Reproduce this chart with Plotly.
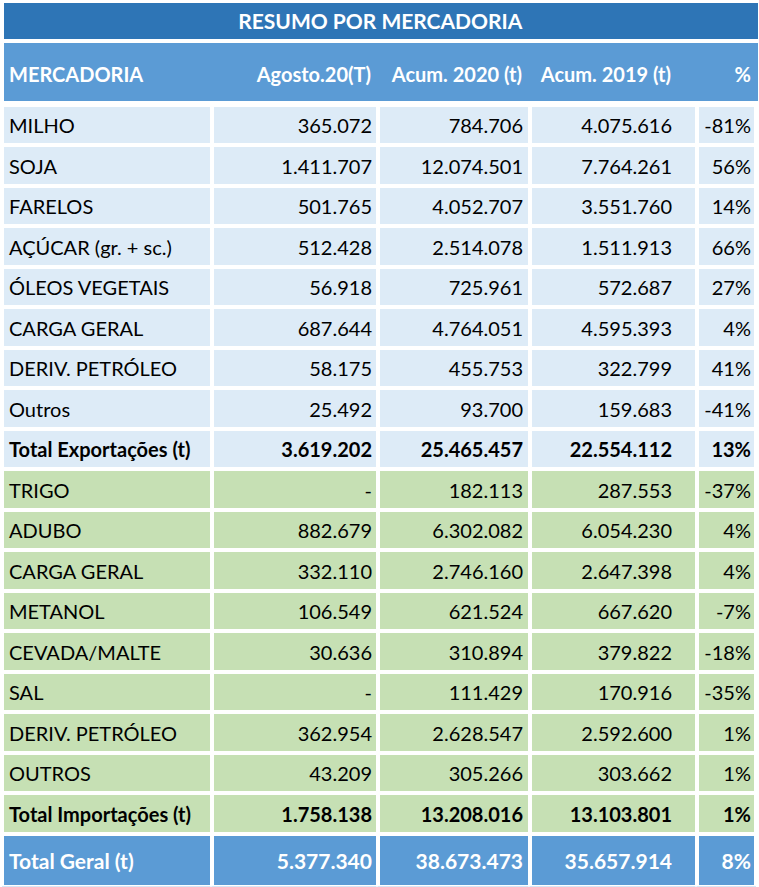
import plotly.graph_objects as go

# ---------------- data ----------------
title_text = "RESUMO POR MERCADORIA"
columns = ["MERCADORIA", "Agosto.20(T)", "Acum. 2020 (t)", "Acum. 2019 (t)", "%"]

exp_names = ["MILHO", "SOJA", "FARELOS", "AÇÚCAR (gr. + sc.)", "ÓLEOS VEGETAIS",
             "CARGA GERAL", "DERIV. PETRÓLEO", "Outros", "Total Exportações (t)"]
exp_ago20 = [365072, 1411707, 501765, 512428, 56918, 687644, 58175, 25492, 3619202]
exp_acum20 = [784706, 12074501, 4052707, 2514078, 725961, 4764051, 455753, 93700, 25465457]
exp_acum19 = [4075616, 7764261, 3551760, 1511913, 572687, 4595393, 322799, 159683, 22554112]
exp_pct = [-81, 56, 14, 66, 27, 4, 41, -41, 13]

imp_names = ["TRIGO", "ADUBO", "CARGA GERAL", "METANOL", "CEVADA/MALTE", "SAL",
             "DERIV. PETRÓLEO", "OUTROS", "Total Importações (t)"]
imp_ago20 = [None, 882679, 332110, 106549, 30636, None, 362954, 43209, 1758138]
imp_acum20 = [182113, 6302082, 2746160, 621524, 310894, 111429, 2628547, 305266, 13208016]
imp_acum19 = [287553, 6054230, 2647398, 667620, 379822, 170916, 2592600, 303662, 13103801]
imp_pct = [-37, 4, 4, -7, -18, -35, 1, 1, 1]

total_name = "Total Geral (t)"
total_values = [5377340, 38673473, 35657914]
total_pct = 8

# ---------------- styling ----------------
W, H = 759, 887
FONT = "Lato"
C_TITLE = "#2E75B6"
C_HEAD = "#5B9BD5"
C_EXP = "#DDEBF7"
C_IMP = "#C6E0B4"
CLEAR = "rgba(0,0,0,0)"
NBSP = "\u00a0"

FILL_X = (2, 756)
FILL_W = [209.5, 166, 152, 167.5, 59]       # visible cell boxes
TEXT_X = (1, 759)
TEXT_W = [210, 169, 151, 149, 79]           # text anchor columns
ALIGNS = ["left", "right", "right", "right", "right"]
ROW_TOP, ROW_H = 104.5, 40.5


def fmt(v):
    if v is None:
        return "-"
    return f"{v:,}".replace(",", ".")


def nb(s):
    return s.replace(" ", NBSP)


def fy(px):
    return max(0.0, min(1.0, 1 - px / H))


def fx(px):
    return px / W


fig = go.Figure()


def add_fill(x, widths, top, bottom, color, line_color, line_w):
    ncol = len(widths)
    fig.add_trace(go.Table(
        domain=dict(x=[fx(x[0]), fx(x[1])], y=[fy(bottom), fy(top)]),
        columnwidth=widths,
        header=dict(values=[""] * ncol, fill_color=color,
                    line=dict(color=line_color, width=line_w), height=bottom - top),
        cells=dict(values=[[] for _ in range(ncol)]),
    ))


def add_text(x, widths, top, bottom, values, size, color, align):
    fig.add_trace(go.Table(
        domain=dict(x=[fx(x[0]), fx(x[1])], y=[fy(bottom), fy(top)]),
        columnwidth=widths,
        header=dict(values=values, fill_color=CLEAR, line=dict(color=CLEAR, width=0),
                    align=align, font=dict(family=FONT, size=size, color=color),
                    height=bottom - top),
        cells=dict(values=[[] for _ in values]),
    ))


# title bar
add_fill((4, 757), [1], 3, 39, C_TITLE, C_TITLE, 1)
add_text((4, 757), [1], 0, 39, [f"<b>{title_text}</b>"], 21, "white", "center")

# column header
add_fill((4, 757), [1], 43, 102, C_HEAD, C_HEAD, 1)
add_text(TEXT_X, TEXT_W, 53.5, 102, [f"<b>{nb(c)}</b>" for c in columns], 20, "white", ALIGNS)

# body rows
names = exp_names + imp_names
ago = exp_ago20 + imp_ago20
a20 = exp_acum20 + imp_acum20
a19 = exp_acum19 + imp_acum19
pct = exp_pct + imp_pct
n_exp = len(exp_names)
for i in range(len(names)):
    top = ROW_TOP + i * ROW_H
    color = C_EXP if i < n_exp else C_IMP
    bold = i in (n_exp - 1, len(names) - 1)
    vals = [nb(names[i]), fmt(ago[i]), fmt(a20[i]), fmt(a19[i]), f"{pct[i]}%"]
    if bold:
        vals = [f"<b>{v}</b>" for v in vals]
    add_fill(FILL_X, FILL_W, top, top + ROW_H, color, "white", 4)
    shift = 0.5 if bold else 5.5
    add_text(TEXT_X, TEXT_W, top + shift, top + ROW_H, vals, 20, "#000000", ALIGNS)

# total geral
tot_top = ROW_TOP + len(names) * ROW_H
add_fill(FILL_X, FILL_W, tot_top, 887, C_HEAD, "white", 4)
add_text(TEXT_X, TEXT_W, 839.5, 887,
         [f"<b>{nb(total_name)}</b>"] + [f"<b>{fmt(v)}</b>" for v in total_values]
         + [f"<b>{total_pct}%</b>"], 21, "white", ALIGNS)

fig.update_layout(width=W, height=H, margin=dict(l=0, r=0, t=0, b=0),
                  paper_bgcolor="white", plot_bgcolor="white")

fig.write_html("out.html", config={"displayModeBar": False},
               post_script="document.body.style.margin='0';document.body.style.padding='0';")
